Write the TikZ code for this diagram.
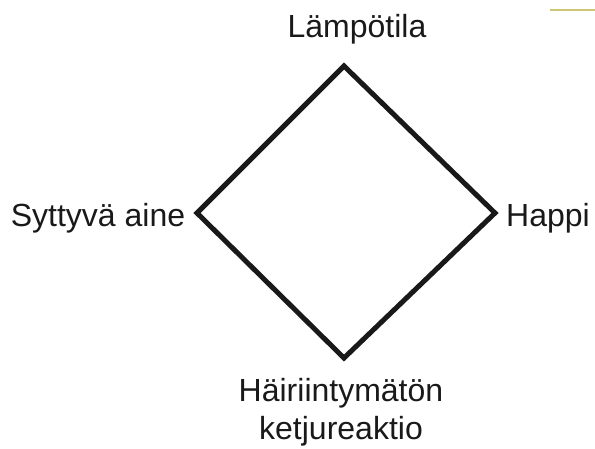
\documentclass[tikz,border=0pt]{standalone}
\usepackage{fontspec}
\setmainfont{Liberation Sans}
\begin{document}
\begin{tikzpicture}[x=1pt,y=-1pt,
  lbl/.style={font=\fontsize{32}{38}\selectfont, text=black!90, inner sep=0pt, anchor=base},
  edge/.style={line width=5pt, line join=miter, draw=black!90}]
\useasboundingbox (0,0) rectangle (595,448);
\coordinate (t) at (344,66);
\coordinate (r) at (495,213);
\coordinate (b) at (344,358);
\coordinate (l) at (197,213);
\draw[edge] (t) -- (r) -- (b) -- (l) -- cycle;
\node[lbl] (lt) at (357,37) {Lämpötila};
\node[lbl] (sa) at (98,226) {Syttyvä aine};
\node[lbl] (hp) at (548,226) {Happi};
\node[lbl] (hk) at (341,401) {Häiriintymätön};
\node[lbl] (kr) at (341,439) {ketjureaktio};
\coordinate (ya) at (550,10);
\coordinate (yb) at (595,10);
\draw[line width=1.5pt, draw={rgb,255:red,205;green,198;blue,115}] (ya) -- (yb);
\end{tikzpicture}
\end{document}
